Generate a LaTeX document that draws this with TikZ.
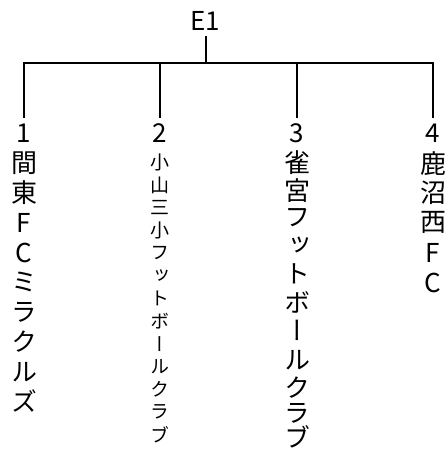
\documentclass[tikz,border=0pt]{standalone}
\usepackage{fontspec}
\setmainfont{Noto Sans CJK JP}
\newfontfamily\vertjp[RawFeature={+vert}]{Noto Sans CJK JP}
\begin{document}
\begin{tikzpicture}[x=1pt,y=1pt,
  conn/.style={line width=2pt, line join=miter},
  big/.style={font=\vertjp\fontsize{26}{26}\selectfont, inner sep=0pt, anchor=center},
  small/.style={font=\vertjp\fontsize{19}{19}\selectfont, inner sep=0pt, anchor=center},
  num/.style={font=\fontsize{26}{26}\selectfont, inner sep=0pt, anchor=center}]
\useasboundingbox (0,0) rectangle (445,-452);
% root
\node[num] (root) at (205,-21) {E1};
\coordinate (s) at (205.5,-36);
\coordinate (j) at (205.5,-63);
\coordinate (h1) at (24,-63);
\coordinate (h2) at (160,-63);
\coordinate (h3) at (297,-63);
\coordinate (h4) at (433,-63);
\coordinate (e1) at (24,-118);
\coordinate (e2) at (160,-118);
\coordinate (e3) at (297,-118);
\coordinate (e4) at (433,-118);
% numbers
\node[num] (n1) at (24,-133.5) {1};
\node[num] (n2) at (160,-133.5) {2};
\node[num] (n3) at (297,-133.5) {3};
\node[num] (n4) at (433,-133.5) {4};
% connectors
\draw[conn] (s) -- (j);
\draw[conn] (e1) -- (h1) -- (h4) -- (e4);
\draw[conn] (h2) -- (e2);
\draw[conn] (h3) -- (e3);
% column 1
\foreach \ch [count=\i] in {間,東,F,C,ミ,ラ,ク,ル,ズ}
  \node[big] (a\i) at (24,{-133.3-29.8*\i}) {\ch};
% column 2
\foreach \ch [count=\i] in {小,山,三,小,フ,ッ,ト,ボ,ー,ル,ク,ラ,ブ}
  \node[small] (b\i) at (160,{-162.5-22.7*(\i-1)}) {\ch};
% column 3
\foreach \ch/\y [count=\i] in {雀/163,宮/191,フ/218,ッ/246,ト/274,ボ/302,ー/330,ル/360,ク/388,ラ/413,ブ/437}
  \node[big] (c\i) at (297,-\y) {\ch};
% column 4
\foreach \ch [count=\i] in {鹿,沼,西,F,C}
  \node[big] (d\i) at (433,{-133.5-29.8*\i}) {\ch};
\end{tikzpicture}
\end{document}
